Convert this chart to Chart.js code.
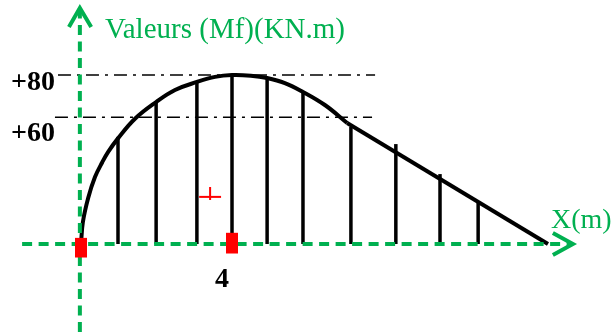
<!DOCTYPE html>
<html>
<head>
<meta charset="utf-8">
<script src="https://cdn.jsdelivr.net/npm/chart.js@4"></script>
<style>
  html, body { margin: 0; padding: 0; background: #ffffff; }
  #wrap { width: 614px; height: 332px; }
</style>
</head>
<body>
<div id="wrap"><canvas id="c" width="614" height="332"></canvas></div>
<script>
// Bending moment diagram Mf(x), kN.m
const curveX = [0, 0.05, 0.19, 0.37, 0.56, 0.72, 0.98, 1.43, 1.99, 2.49, 3.07, 3.55, 4.0, 4.50, 4.93, 5.40, 5.88, 6.46, 7.05];
const curveY = [0, 10.4, 21.8, 31.7, 38.6, 43.6, 50.0, 59.3, 67.2, 72.9, 76.7, 79.1, 80, 79.7, 78.6, 76.2, 72.0, 65.8, 57.3];
// linear decreasing branch
const slopeX = [7.05, 12.37];
const slopeY = [57.3, 0];

// vertical hatching under the diagram
const hatchX = [0.98, 1.99, 3.07, 4.0, 4.93, 5.88, 7.15, 8.34, 9.51, 10.52];
const hatchY = [50.7, 67.2, 76.7, 80, 78.6, 72.0, 55.4, 47.3, 33.1, 19.9];

// reference levels (dash-dot) and their extent along x
const levelValues = [80, 60];
const levelLabels = ['+80', '+60'];
const levelFrom = [-0.61, -0.69];
const levelTo = [7.79, 7.71];

// supports / key sections (red markers)
const markerX = [0, 4];
const markerLow = [-6.4, -4.5];
const markerHigh = [2.9, 5.3];
const xTickLabel = '4';

// small red cross
const crossH = [[3.13, 22.3], [3.71, 22.3]];
const crossV = [[3.42, 27.0], [3.42, 20.8]];

// axes with arrow heads
const xAxisLine = [[-1.56, 0], [13.03, 0]];
const xArrow = [[12.50, 5.2], [13.03, 0], [12.50, -5.2]];
const yAxisLine = [[-0.03, -41.7], [-0.03, 111.7]];
const yArrow = [[-0.32, 102.7], [-0.03, 111.7], [0.27, 102.7]];

const yTitle = 'Valeurs (Mf)(KN.m)';
const xTitle = 'X(m)';

const GREEN = '#00b050';
const RED = '#ff0000';
const toPts = a => a.map(p => ({ x: p[0], y: p[1] }));

const lineDs = (data, extra) => Object.assign({
  type: 'line', data, borderColor: '#000', borderWidth: 2, pointRadius: 0,
  fill: false, tension: 0, clip: false
}, extra);

const datasets = [
  // red markers on top
  {
    type: 'bar', order: 0, grouped: false, maxBarThickness: 12,
    data: markerX.map((x, i) => ({ x, y: [markerLow[i], markerHigh[i]] })),
    backgroundColor: RED, borderWidth: 0
  },
  lineDs(toPts(crossH), { order: 1, borderColor: RED, borderWidth: 2 }),
  lineDs(toPts(crossV), { order: 1, borderColor: RED, borderWidth: 2 }),
  // green axes
  lineDs(toPts(xAxisLine), { order: 2, borderColor: GREEN, borderWidth: 4, borderDash: [10, 6.5], borderCapStyle: 'butt' }),
  lineDs(toPts(yAxisLine), { order: 2, borderColor: GREEN, borderWidth: 4, borderDash: [10, 6.5], borderCapStyle: 'butt' }),
  lineDs(toPts(xArrow), { order: 2, borderColor: GREEN, borderWidth: 4, borderJoinStyle: 'miter' }),
  lineDs(toPts(yArrow), { order: 2, borderColor: GREEN, borderWidth: 4, borderJoinStyle: 'miter' }),
  // diagram
  lineDs(curveX.map((x, i) => ({ x, y: curveY[i] })), { order: 3, borderWidth: 4, tension: 0.4 }),
  lineDs(slopeX.map((x, i) => ({ x, y: slopeY[i] })), { order: 3, borderWidth: 4 }),
  {
    type: 'bar', order: 4, grouped: false, maxBarThickness: 3.5,
    data: hatchX.map((x, i) => ({ x, y: hatchY[i] })),
    backgroundColor: '#000', borderWidth: 0
  },
  // dash-dot levels
  ...levelValues.map((v, i) => lineDs(
    [{ x: levelFrom[i], y: v }, { x: levelTo[i], y: v }],
    { order: 5, borderWidth: 1.6, borderDash: [13, 6, 3, 6], borderCapStyle: 'butt' }
  ))
];

// text labels positioned through the scales
const labelsPlugin = {
  id: 'labels',
  afterDatasetsDraw(chart) {
    const { ctx, scales: { x, y } } = chart;
    ctx.save();
    ctx.textBaseline = 'alphabetic';
    ctx.fillStyle = GREEN;
    ctx.font = '29px "Liberation Serif"';
    ctx.textAlign = 'left';
    ctx.fillText(yTitle, x.getPixelForValue(0) + 24, 38);
    ctx.font = '28px "Liberation Serif"';
    ctx.fillText(xTitle, 551, y.getPixelForValue(0) - 16);

    ctx.fillStyle = '#000';
    ctx.font = 'bold 28px "Liberation Serif"';
    ctx.textAlign = 'right';
    levelValues.forEach((v, i) => {
      ctx.fillText(levelLabels[i], 55, y.getPixelForValue(v) + (i === 0 ? 15 : 24));
    });
    ctx.textAlign = 'center';
    ctx.fillText(xTickLabel, x.getPixelForValue(4) - 10, y.getPixelForValue(0) + 43);
    ctx.restore();
  }
};

new Chart(document.getElementById('c'), {
  type: 'bar',
  data: { datasets },
  options: {
    responsive: false,
    animation: false,
    devicePixelRatio: 1,
    layout: { padding: 0 },
    plugins: { legend: { display: false }, tooltip: { enabled: false } },
    scales: {
      x: { type: 'linear', display: false, min: -2.1457, max: 14.119, offset: false },
      y: { type: 'linear', display: false, min: -41.657, max: 115.503, beginAtZero: false }
    }
  },
  plugins: [labelsPlugin]
});
</script>
</body>
</html>
